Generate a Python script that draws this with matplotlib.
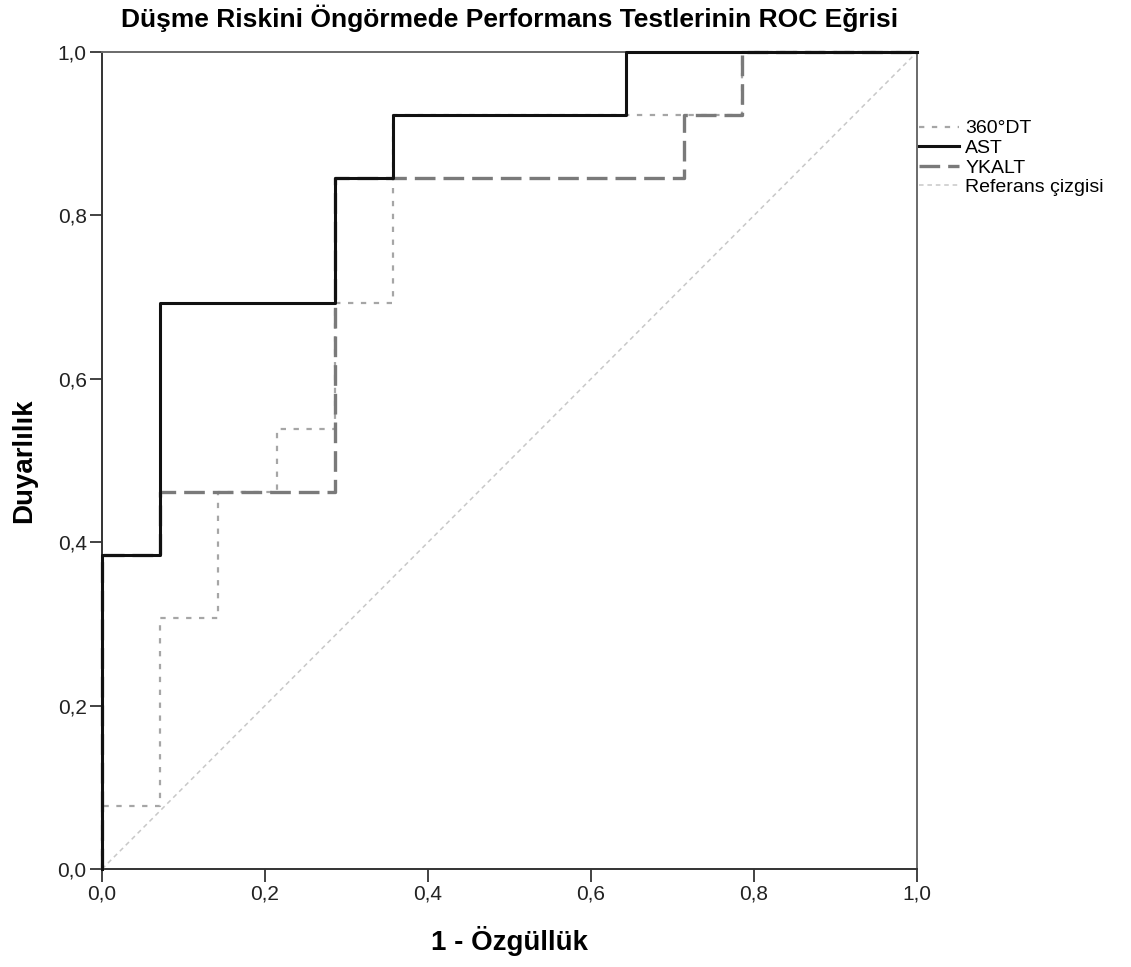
import matplotlib
matplotlib.use('Agg')
import matplotlib.pyplot as plt
import numpy as np

plt.rcParams['font.family'] = ['Liberation Sans', 'DejaVu Sans']

# ROC step points (1 - specificity, sensitivity)
dt360_x = [0.0, 0.0, 0.0714, 0.0714, 0.1429, 0.1429, 0.2143, 0.2143, 0.2857, 0.2857, 0.3571, 0.3571, 0.7857, 0.7857, 1.0]
dt360_y = [0.0, 0.0769, 0.0769, 0.3077, 0.3077, 0.4615, 0.4615, 0.5385, 0.5385, 0.6923, 0.6923, 0.9231, 0.9231, 1.0, 1.0]

ast_x = [0.0, 0.0, 0.0714, 0.0714, 0.2857, 0.2857, 0.3571, 0.3571, 0.6429, 0.6429, 1.0]
ast_y = [0.0, 0.3846, 0.3846, 0.6923, 0.6923, 0.8462, 0.8462, 0.9231, 0.9231, 1.0, 1.0]

ykalt_x = [0.0, 0.0, 0.0714, 0.0714, 0.2857, 0.2857, 0.7143, 0.7143, 0.7857, 0.7857, 1.0]
ykalt_y = [0.0, 0.3846, 0.3846, 0.4615, 0.4615, 0.8462, 0.8462, 0.9231, 0.9231, 1.0, 1.0]

ref_x = [0.0, 1.0]
ref_y = [0.0, 1.0]

series_names = ['360°DT', 'AST', 'YKALT', 'Referans çizgisi']
tick_vals = [0.0, 0.2, 0.4, 0.6, 0.8, 1.0]
tick_labels = ['0,0', '0,2', '0,4', '0,6', '0,8', '1,0']

fig = plt.figure(figsize=(11.31, 9.67), dpi=100)
ax = fig.add_axes([0.0902, 0.1013, 0.7206, 0.8449])

ax.plot(ref_x, ref_y, color='#c8c8c8', lw=1.1, dashes=(3, 2.5), label=series_names[3], clip_on=False, zorder=2)
ax.plot(dt360_x, dt360_y, color='#a6a6a6', lw=1.6, dashes=(2.4, 3.4), label=series_names[0], clip_on=False, zorder=3)
ax.plot(ykalt_x, ykalt_y, color='#7a7a7a', lw=2.4, dashes=(6.2, 2.4), label=series_names[2], clip_on=False, zorder=4)
ax.plot(ast_x, ast_y, color='#111111', lw=2.2, label=series_names[1], clip_on=False, zorder=5)

ax.set_xlim(0, 1)
ax.set_ylim(0, 1)
ax.set_xticks(tick_vals)
ax.set_xticklabels(tick_labels)
ax.set_yticks(tick_vals)
ax.set_yticklabels(tick_labels)
ax.tick_params(direction='out', length=9, width=1.2, labelsize=15, pad=2, colors='#222222')

for side in ['left', 'bottom']:
    ax.spines[side].set_color('#333333')
    ax.spines[side].set_linewidth(1.4)
for side in ['top', 'right']:
    ax.spines[side].set_color('#6a6a6a')
    ax.spines[side].set_linewidth(1.4)

ax.set_title('Düşme Riskini Öngörmede Performans Testlerinin ROC Eğrisi',
             fontsize=19, fontweight='bold', pad=18)
ax.set_xlabel('1 - Özgüllük', fontsize=20, fontweight='bold', labelpad=16)
ax.set_ylabel('Duyarlılık', fontsize=20, fontweight='bold', labelpad=15)

handles, labels = ax.get_legend_handles_labels()
order = [labels.index(n) for n in series_names]
ax.legend([handles[i] for i in order], [labels[i] for i in order],
          loc='upper left', bbox_to_anchor=(1.003, 0.917), frameon=False,
          fontsize=14, handlelength=2.05, handletextpad=0.3,
          labelspacing=0.1, borderaxespad=0, borderpad=0)

fig.savefig('out.png', dpi=100, facecolor='white')
